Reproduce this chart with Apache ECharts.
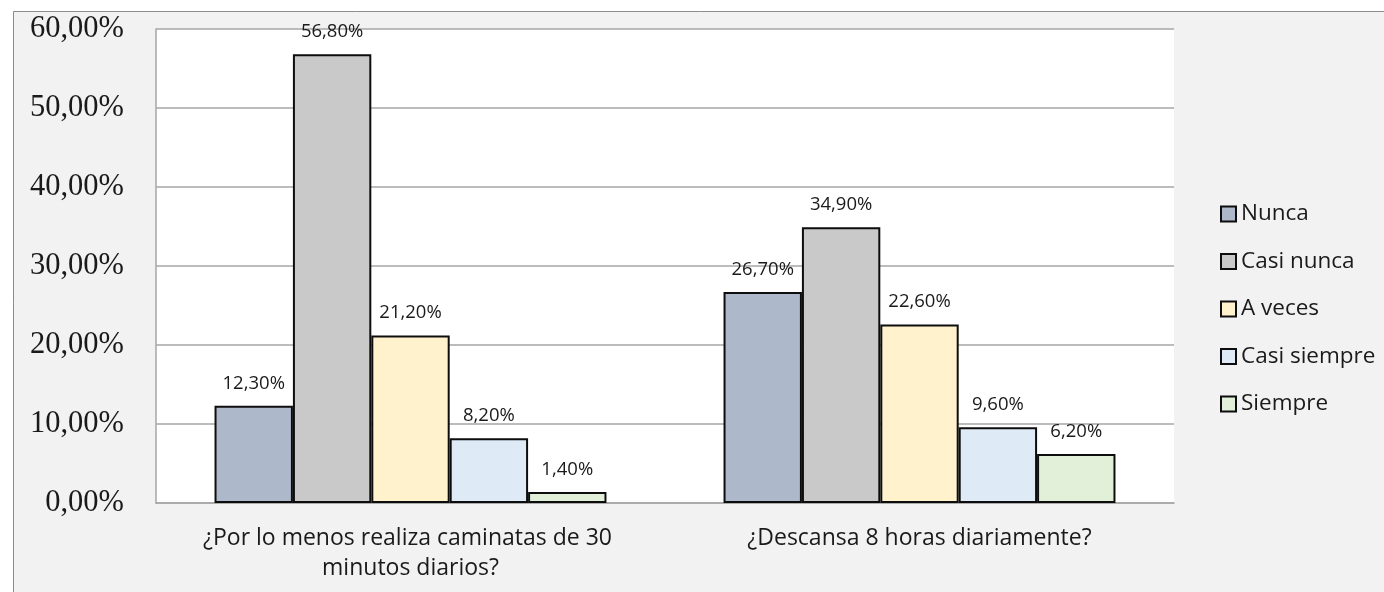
<!DOCTYPE html>
<html>
<head>
<meta charset="utf-8">
<script src="https://cdn.jsdelivr.net/npm/echarts@6/dist/echarts.min.js"></script>
<style>
  html, body { margin: 0; padding: 0; background: #fff; }
  #chart { width: 1384px; height: 592px; }
</style>
</head>
<body>
<div id="chart"></div>
<script>
// preguntas (categorias)
var categories = ['¿Por lo menos realiza caminatas de 30 minutos diarios?', '¿Descansa 8 horas diariamente?'];
var seriesNames = ['Nunca', 'Casi nunca', 'A veces', 'Casi siempre', 'Siempre'];
// valores en %
var nunca = [12.3, 26.7];
var casiNunca = [56.8, 34.9];
var aVeces = [21.2, 22.6];
var casiSiempre = [8.2, 9.6];
var siempre = [1.4, 6.2];
var colors = ['#adb9ca', '#c9c9c9', '#fff2cc', '#deeaf6', '#e2efd9'];

var values = [nunca, casiNunca, aVeces, casiSiempre, siempre];

function pct(v) {
  return v.toFixed(2).replace('.', ',') + '%';
}

var chart = echarts.init(document.getElementById('chart'));

var series = seriesNames.map(function (name, i) {
  return {
    name: name,
    type: 'bar',
    barGap: '0%',
    barCategoryGap: '23%',
    data: values[i],
    itemStyle: {
      color: colors[i],
      borderColor: '#0d0d0d',
      borderWidth: 2
    },
    label: {
      show: true,
      position: 'top',
      distance: 13,
      fontFamily: 'Open Sans',
      fontSize: 18.5,
      color: '#1a1a1a',
      formatter: function (p) { return pct(p.value); }
    }
  };
});

var option = {
  animation: false,
  backgroundColor: '#ffffff',
  graphic: [
    {
      type: 'rect',
      z: -10,
      shape: { x: 13.5, y: 11.5, width: 1400, height: 600 },
      style: { fill: '#f2f2f2', stroke: '#8c8c8c', lineWidth: 1 }
    }
  ],
  grid: {
    left: 156,
    right: 210,
    top: 29,
    bottom: 89,
    show: true,
    backgroundColor: '#ffffff',
    borderWidth: 0
  },
  legend: {
    orient: 'vertical',
    left: 1215,
    top: 197,
    itemWidth: 15,
    itemHeight: 15,
    itemGap: 23.5,
    icon: 'rect',
    textStyle: {
      fontFamily: 'Open Sans',
      fontSize: 22.5,
      lineHeight: 24,
      color: '#1a1a1a'
    },
    data: seriesNames
  },
  xAxis: {
    type: 'category',
    data: categories,
    axisLine: { lineStyle: { color: '#a6a6a6', width: 1.5 } },
    axisTick: { show: false },
    axisLabel: {
      interval: 0,
      fontFamily: 'Open Sans',
      fontSize: 23,
      lineHeight: 30,
      color: '#1a1a1a',
      margin: 20,
      width: 450,
      overflow: 'break'
    }
  },
  yAxis: {
    type: 'value',
    min: 0,
    max: 60,
    interval: 10,
    axisLine: { show: true, lineStyle: { color: '#a6a6a6', width: 1.5 } },
    axisTick: { show: false },
    splitLine: { lineStyle: { color: '#a6a6a6', width: 1.5 } },
    axisLabel: {
      fontFamily: 'Liberation Serif',
      fontSize: 30.5,
      color: '#1a1a1a',
      margin: 32,
      formatter: function (v) { return pct(v); }
    }
  },
  series: series
};

chart.setOption(option);
</script>
</body>
</html>
